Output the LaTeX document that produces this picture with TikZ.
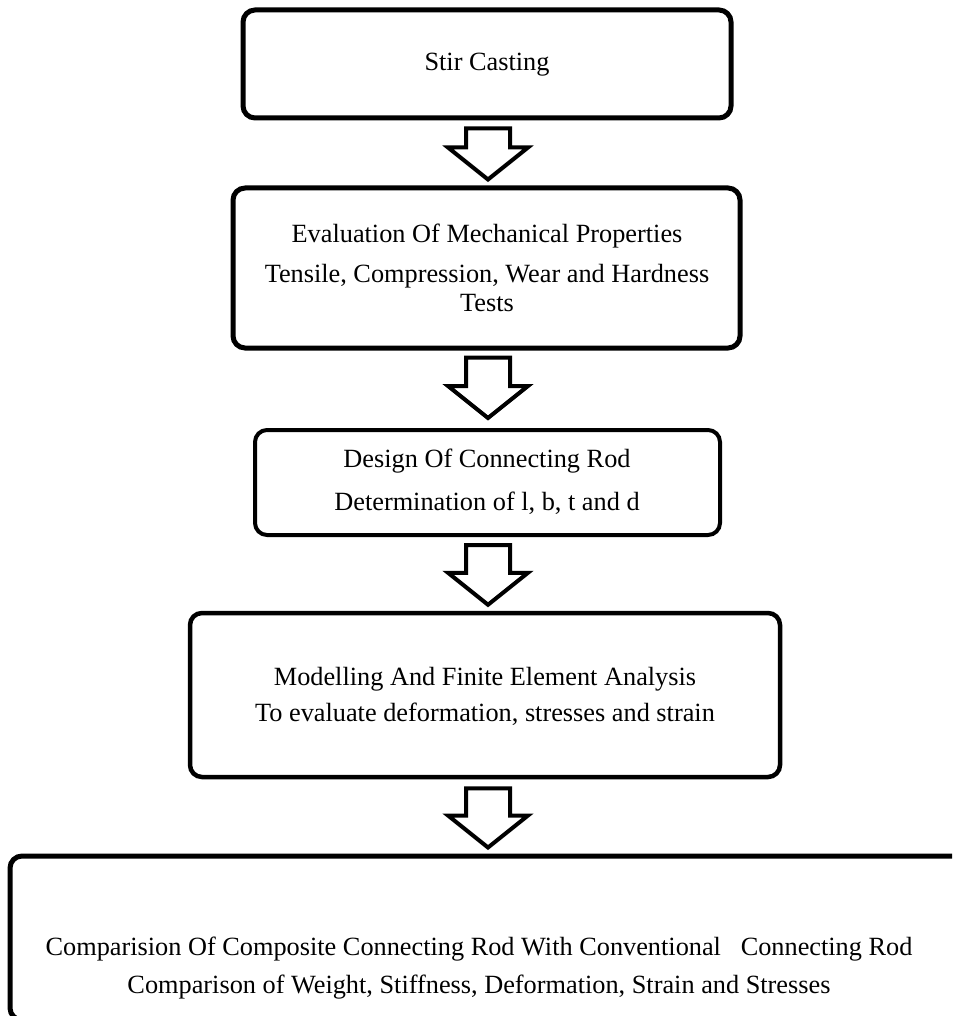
\documentclass[tikz,border=0pt]{standalone}
\usepackage{fontspec}
\setmainfont{Liberation Serif}
\usetikzlibrary{calc}
\newcommand\blockarr[4]{%
  \coordinate (#1#2s) at ($(#1.south)+(0,#3)$);
  \coordinate (#1#2e) at ($(#2.north)+(0,-#4)$);
  \draw[barrow] ($(#1#2s -| ax)+(-22,0)$) -- ($(#1#2s -| ax)+(22,0)$)
     -- ($(#1#2e -| ax)+(22,-32)$) -- ($(#1#2e -| ax)+(40,-32)$)
     -- (#1#2e -| ax) -- ($(#1#2e -| ax)+(-40,-32)$)
     -- ($(#1#2e -| ax)+(-22,-32)$) -- cycle;}
\begin{document}
\begin{tikzpicture}[x=1pt,y=-1pt,
  box/.style={draw, line width=5pt, rounded corners=12pt, inner sep=0pt, anchor=center},
  lbl/.style={align=center, font=\fontsize{26.3}{30}\selectfont, inner sep=0pt, anchor=center},
  barrow/.style={draw, line width=4pt, line join=miter, fill=white}]
\useasboundingbox (0,0) rectangle (952,1016);
\clip (0,0) rectangle (952,1016);
\coordinate (ax) at (488,0);
% boxes
\node[box, minimum width=488pt, minimum height=108pt] (b1) at (487,64) {};
\node[box, minimum width=507pt, minimum height=160pt] (b2) at (486.5,268) {};
\node[box, line width=4pt, minimum width=465pt, minimum height=105pt] (b3) at (487.5,482.5) {};
\node[box, line width=4.5pt, minimum width=590pt, minimum height=164pt] (b4) at (485,695) {};
\node[box, minimum width=970pt, minimum height=164pt] (b5) at (495,938) {};
% texts
\node[lbl] (t1) at (487,65) {Stir Casting};
\node[lbl] (t2) at (487,268) {Evaluation Of Mechanical Properties\\[10pt]
  Tensile, Compression, Wear and Hardness\\[-1pt] Tests};
\node[lbl] (t3) at (487,482) {Design Of Connecting Rod\\[13pt] Determination of l, b, t and d};
\node[lbl] (t4) at (485,696) {Modelling And Finite Element Analysis\\[6pt]
  To evaluate deformation, stresses and strain};
\node[lbl] (t5) at (479,968) {Comparision Of Composite Connecting Rod With Conventional\ \ \ Connecting Rod\\[8pt]
  Comparison of Weight, Stiffness, Deformation, Strain and Stresses};
% block arrows
\blockarr{b1}{b2}{8}{6}
\blockarr{b2}{b3}{7}{10}
\blockarr{b3}{b4}{8}{6}
\blockarr{b4}{b5}{9}{6}
\end{tikzpicture}
\end{document}
